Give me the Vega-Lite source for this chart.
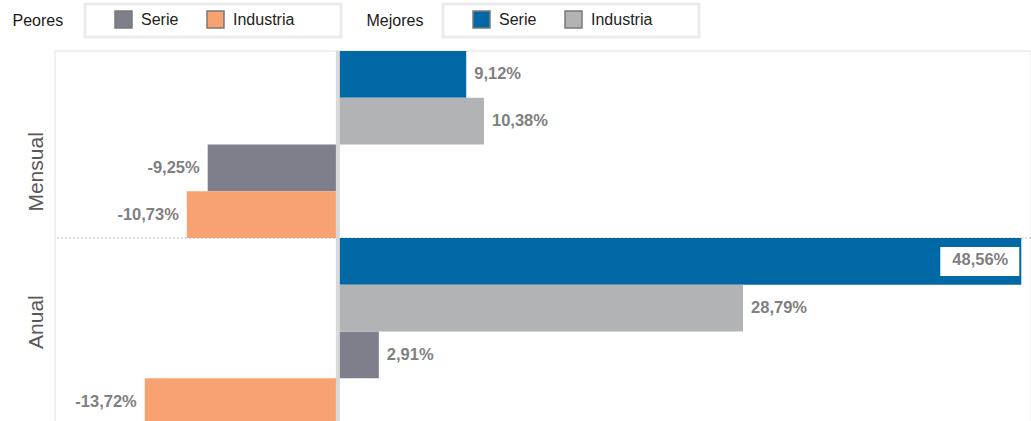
{
  "$schema": "https://vega.github.io/schema/vega-lite/v6.json",
  "width": 976,
  "height": 374,
  "autosize": {"type": "none"},
  "padding": {"left": 55, "top": 51, "right": 0, "bottom": 0},
  "background": "white",
  "config": {
    "font": "Liberation Sans",
    "view": {"stroke": "#ececec", "strokeWidth": 1.5},
    "locale": {"number": {"decimal": ",", "thousands": ".", "grouping": [3], "currency": ["", " €"], "minus": "-"}},
    "legend": {"strokeWidth": 3}
  },
  "datasets": {
    "bars": [
      {"row": "M1", "periodo": "Mensual", "grupo": "Mejores", "serie": "Serie", "v": 0.0912},
      {"row": "M2", "periodo": "Mensual", "grupo": "Mejores", "serie": "Industria", "v": 0.1038},
      {"row": "M3", "periodo": "Mensual", "grupo": "Peores", "serie": "Serie", "v": -0.0925},
      {"row": "M4", "periodo": "Mensual", "grupo": "Peores", "serie": "Industria", "v": -0.1073},
      {"row": "A1", "periodo": "Anual", "grupo": "Mejores", "serie": "Serie", "v": 0.4856},
      {"row": "A2", "periodo": "Anual", "grupo": "Mejores", "serie": "Industria", "v": 0.2879},
      {"row": "A3", "periodo": "Anual", "grupo": "Peores", "serie": "Serie", "v": 0.0291},
      {"row": "A4", "periodo": "Anual", "grupo": "Peores", "serie": "Industria", "v": -0.1372}
    ]
  },
  "data": {"name": "bars"},
  "layer": [
    {
      "data": {"values": [{"row": "A1"}]},
      "mark": {"type": "rule", "color": "#bdbdbd", "strokeWidth": 1, "strokeDash": [2, 2]},
      "encoding": {
        "y": {
          "field": "row", "type": "nominal", "bandPosition": 0, "title": "Peores",
          "scale": {"domain": ["M1", "M2", "M3", "M4", "A1", "A2", "A3", "A4"], "paddingInner": 0, "paddingOuter": 0},
          "axis": {
            "domain": false, "ticks": false, "grid": false,
            "labelExpr": "datum.value == 'M3' ? 'Mensual' : datum.value == 'A2' ? 'Anual' : ''",
            "labelAngle": 270, "labelAlign": "center", "labelBaseline": "bottom",
            "labelFontSize": 21, "labelColor": "#595959", "labelPadding": 9,
            "labelOffset": {"condition": {"test": "datum.value == 'M3'", "value": 4}, "value": 14},
            "title": "Peores", "titleAngle": 0, "titleX": -43, "titleY": -31,
            "titleAlign": "left", "titleBaseline": "middle", "titleFontSize": 16,
            "titleFontWeight": "normal", "titleColor": "#1a1a1a"
          }
        }
      }
    },
    {
      "transform": [{"filter": "datum.grupo == 'Peores'"}],
      "mark": {"type": "bar"},
      "encoding": {
        "y": {"field": "row", "type": "nominal", "title": "Peores",
          "scale": {"domain": ["M1", "M2", "M3", "M4", "A1", "A2", "A3", "A4"], "paddingInner": 0, "paddingOuter": 0}},
        "x": {
          "field": "v", "type": "quantitative", "title": "Mejores",
          "scale": {"domain": [-0.201, 0.4925], "nice": false, "zero": false},
          "axis": {
            "domain": false, "ticks": false, "labels": false, "grid": false,
            "title": "Mejores", "titleX": 311, "titleY": -405, "titleAlign": "left",
            "titleBaseline": "middle", "titleAnchor": "start", "titleFontSize": 16,
            "titleFontWeight": "normal", "titleColor": "#1a1a1a"
          }
        },
        "color": {
          "field": "serie", "type": "nominal",
          "scale": {"domain": ["Serie", "Industria"], "range": ["#7e7f8b", "#f7a270"]},
          "legend": {
            "orient": "none", "legendX": 30, "legendY": -47, "direction": "horizontal",
            "title": null, "symbolType": "square", "symbolSize": 289,
            "symbolStrokeColor": "#7a7a7a", "symbolStrokeWidth": 1.5, "symbolOpacity": 1,
            "labelFontSize": 16, "labelColor": "#222222", "labelOffset": 8,
            "padding": 6, "symbolOffset": 23, "columnPadding": 4,
            "strokeColor": "#ebebeb",
            "labelExpr": "datum.label == 'Industria' ? 'Industria\u00a0\u00a0\u00a0\u00a0\u00a0\u00a0\u00a0\u00a0\u00a0\u200b' : datum.label"
          }
        }
      }
    },
    {
      "transform": [{"filter": "datum.grupo == 'Mejores'"}],
      "mark": {"type": "bar"},
      "encoding": {
        "y": {"field": "row", "type": "nominal", "title": "Peores",
          "scale": {"domain": ["M1", "M2", "M3", "M4", "A1", "A2", "A3", "A4"], "paddingInner": 0, "paddingOuter": 0}},
        "x": {"field": "v", "type": "quantitative", "title": "Mejores"},
        "color": {
          "field": "serie", "type": "nominal",
          "scale": {"domain": ["Serie", "Industria"], "range": ["#0069a5", "#b2b3b5"]},
          "legend": {
            "orient": "none", "legendX": 388, "legendY": -47, "direction": "horizontal",
            "title": null, "symbolType": "square", "symbolSize": 289,
            "symbolStrokeColor": "#7a7a7a", "symbolStrokeWidth": 1.5, "symbolOpacity": 1,
            "labelFontSize": 16, "labelColor": "#222222", "labelOffset": 8,
            "padding": 6, "symbolOffset": 23, "columnPadding": 4,
            "strokeColor": "#ebebeb",
            "labelExpr": "datum.label == 'Industria' ? 'Industria\u00a0\u00a0\u00a0\u00a0\u00a0\u00a0\u00a0\u00a0\u00a0\u200b' : datum.label"
          }
        }
      }
    },
    {
      "data": {"values": [{"v": 0}]},
      "mark": {"type": "rule", "color": "#d9d9d9", "strokeWidth": 4},
      "encoding": {"x": {"field": "v", "type": "quantitative", "title": "Mejores"}}
    },
    {
      "transform": [{"filter": "datum.v > 0 && datum.row != 'A1'"}],
      "mark": {"type": "text", "align": "left", "baseline": "middle", "dx": 8, "fontSize": 16.5, "fontWeight": "bold", "color": "#808080"},
      "encoding": {
        "y": {"field": "row", "type": "nominal", "title": "Peores"},
        "x": {"field": "v", "type": "quantitative", "title": "Mejores"},
        "text": {"field": "v", "type": "quantitative", "format": ".2%"}
      }
    },
    {
      "transform": [{"filter": "datum.v < 0"}],
      "mark": {"type": "text", "align": "right", "baseline": "middle", "dx": -8, "fontSize": 16.5, "fontWeight": "bold", "color": "#808080"},
      "encoding": {
        "y": {"field": "row", "type": "nominal", "title": "Peores"},
        "x": {"field": "v", "type": "quantitative", "title": "Mejores"},
        "text": {"field": "v", "type": "quantitative", "format": ".2%"}
      }
    },
    {
      "transform": [{"filter": "datum.row == 'A1'"}],
      "mark": {"type": "bar", "color": "white", "height": 29, "xOffset": -81, "x2Offset": -2},
      "encoding": {
        "y": {"field": "row", "type": "nominal", "title": "Peores"},
        "x": {"field": "v", "type": "quantitative", "title": "Mejores"},
        "x2": {"field": "v"}
      }
    },
    {
      "transform": [{"filter": "datum.row == 'A1'"}],
      "mark": {"type": "text", "align": "center", "baseline": "middle", "dx": -41, "dy": -1, "fontSize": 16.5, "fontWeight": "bold", "color": "#808080"},
      "encoding": {
        "y": {"field": "row", "type": "nominal", "title": "Peores"},
        "x": {"field": "v", "type": "quantitative", "title": "Mejores"},
        "text": {"field": "v", "type": "quantitative", "format": ".2%"}
      }
    }
  ],
  "resolve": {"scale": {"color": "independent"}}
}
